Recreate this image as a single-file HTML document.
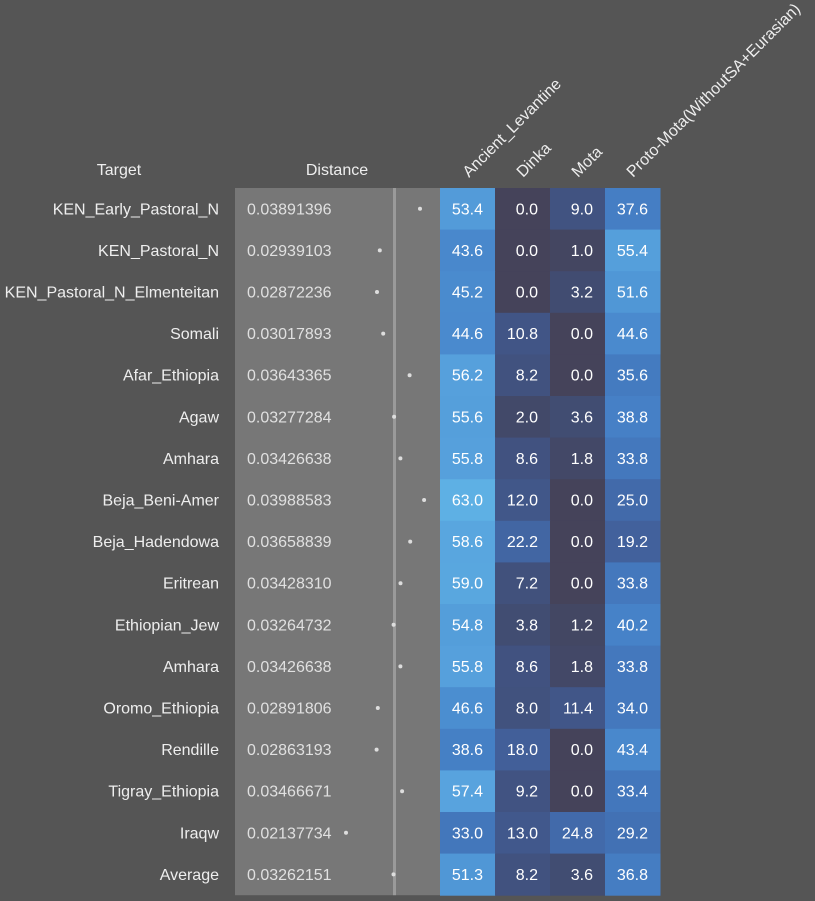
<!DOCTYPE html>
<html><head><meta charset="utf-8"><style>
html,body{margin:0;padding:0;background:#555555;}
svg{display:block;font-family:"Liberation Sans",Arial,sans-serif;}
</style></head><body>
<svg id="s" width="815" height="901" xmlns="http://www.w3.org/2000/svg"></svg>
<script>
(function(){
const rows=[
["KEN_Early_Pastoral_N","0.03891396",53.4,0.0,9.0,37.6],
["KEN_Pastoral_N","0.02939103",43.6,0.0,1.0,55.4],
["KEN_Pastoral_N_Elmenteitan","0.02872236",45.2,0.0,3.2,51.6],
["Somali","0.03017893",44.6,10.8,0.0,44.6],
["Afar_Ethiopia","0.03643365",56.2,8.2,0.0,35.6],
["Agaw","0.03277284",55.6,2.0,3.6,38.8],
["Amhara","0.03426638",55.8,8.6,1.8,33.8],
["Beja_Beni-Amer","0.03988583",63.0,12.0,0.0,25.0],
["Beja_Hadendowa","0.03658839",58.6,22.2,0.0,19.2],
["Eritrean","0.03428310",59.0,7.2,0.0,33.8],
["Ethiopian_Jew","0.03264732",54.8,3.8,1.2,40.2],
["Amhara","0.03426638",55.8,8.6,1.8,33.8],
["Oromo_Ethiopia","0.02891806",46.6,8.0,11.4,34.0],
["Rendille","0.02863193",38.6,18.0,0.0,43.4],
["Tigray_Ethiopia","0.03466671",57.4,9.2,0.0,33.4],
["Iraqw","0.02137734",33.0,13.0,24.8,29.2],
["Average","0.03262151",51.3,8.2,3.6,36.8]];
const stops=[[0,[69,67,90]],[3,[65,76,112]],[10,[65,84,132]],[20,[66,98,158]],[30,[66,114,182]],[40,[70,130,200]],[50,[78,148,212]],[56,[86,160,220]],[63,[94,176,228]]];
function col(v){for(let i=0;i<stops.length-1;i++){const a=stops[i][0],ca=stops[i][1],b=stops[i+1][0],cb=stops[i+1][1];if(v<=b){const t=(v-a)/(b-a);return "rgb("+ca.map((c,k)=>Math.round(c+(cb[k]-c)*t)).join(",")+")";}}return "rgb(94,176,228)";}
let h='';
const T0=188,rh=41.6,fs=16;
h+='<text x="119" y="175" fill="#eeeeee" font-size="'+fs+'" text-anchor="middle">Target</text>';
h+='<text x="337" y="175" fill="#eeeeee" font-size="'+fs+'" text-anchor="middle">Distance</text>';
const heads=[["Ancient_Levantine",469],["Dinka",523],["Mota",578],["Proto-Mota(WithoutSA+Eurasian)",633]];
heads.forEach(function(p){h+='<text x="'+p[1]+'" y="178" fill="#eeeeee" font-size="'+fs+'" transform="rotate(-45 '+p[1]+' 178)">'+p[0]+'</text>';});
h+='<rect x="235" y="'+T0+'" width="205" height="'+(rh*17)+'" fill="#777777"/>';
h+='<rect x="393" y="'+T0+'" width="3" height="'+(rh*17)+'" fill="#9a9a9a"/>';
const cx=[440,495,550,605];
rows.forEach(function(r,i){
 const y=T0+i*rh, cy=y+rh/2+5.5;
 h+='<text x="219" y="'+cy+'" fill="#eeeeee" font-size="'+fs+'" text-anchor="end">'+r[0]+'</text>';
 h+='<text x="247" y="'+cy+'" fill="#e0e0e0" font-size="'+fs+'">'+r[1]+'</text>';
 const dx=346+(parseFloat(r[1])-0.02137734)*4221;
 h+='<circle cx="'+dx.toFixed(1)+'" cy="'+(y+rh/2)+'" r="2" fill="#dddddd"/>';
 for(let k=0;k<4;k++){
  h+='<rect x="'+cx[k]+'" y="'+y+'" width="55.5" height="'+(rh+0.5)+'" fill="'+col(r[2+k])+'"/>';
  h+='<text x="'+(cx[k]+43)+'" y="'+cy+'" fill="#ffffff" font-size="'+fs+'" text-anchor="end">'+r[2+k].toFixed(1)+'</text>';
 }
});
document.getElementById('s').innerHTML=h;
})();
</script>
</body></html>
